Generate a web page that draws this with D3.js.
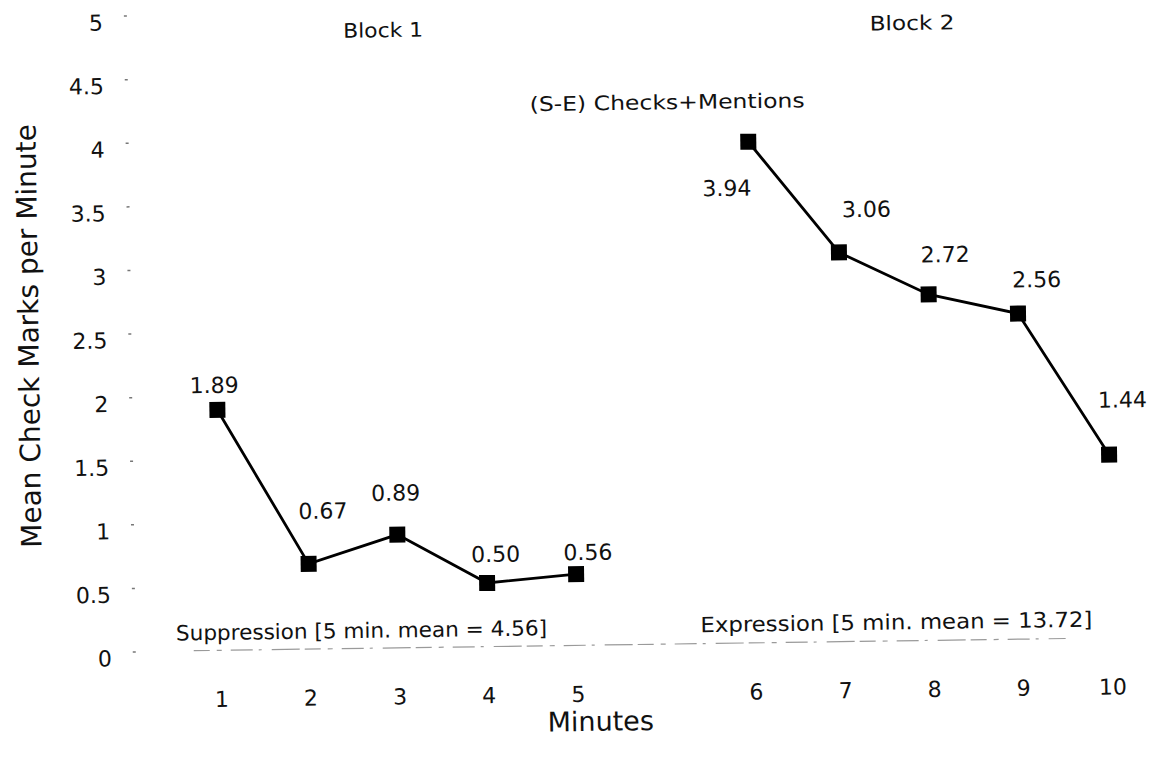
<!DOCTYPE html>
<html>
<head>
<meta charset="utf-8">
<script src="https://cdn.jsdelivr.net/npm/d3@7/dist/d3.min.js"></script>
<style>
  html, body { margin: 0; padding: 0; background: #ffffff; }
  svg { display: block; }
  text { font-family: "DejaVu Sans", "Liberation Sans", Arial, sans-serif; fill: #111; }
</style>
</head>
<body>
<svg id="chart" width="1164" height="757"></svg>
<script>
// ---------- data ----------
const minuteLabels   = ["1", "2", "3", "4", "5", "6", "7", "8", "9", "10"];
const block1Minutes  = ["1", "2", "3", "4", "5"];
const block1Values   = [1.89, 0.67, 0.89, 0.50, 0.56];
const block2Minutes  = ["6", "7", "8", "9", "10"];
const block2Values   = [3.94, 3.06, 2.72, 2.56, 1.44];
const yTickValues    = [0, 0.5, 1, 1.5, 2, 2.5, 3, 3.5, 4, 4.5, 5];
const blockTitles    = ["Block 1", "Block 2"];
const conditionNotes = ["Suppression [5 min. mean = 4.56]", "Expression [5 min. mean = 13.72]"];
const seriesNote     = "(S-E) Checks+Mentions";
const xTitle = "Minutes";
const yTitle = "Mean Check Marks per Minute";

// ---------- layout (styles / offsets only) ----------
const block1LabelOffsets = [[-3, -25], [15, -53], [-1, -42], [9, -29], [12, -22]];
const block2LabelOffsets = [[-22, 46], [28, -43], [17, -40], [19, -34], [14, -55]];

const svg = d3.select("#chart");
// the scanned original is tilted very slightly
const g = svg.append("g").attr("transform", "rotate(-0.8, 600, 380)");

const xDomain = ["1", "2", "3", "4", "5", "gap", "6", "7", "8", "9", "10"];
const x = d3.scalePoint().domain(xDomain).range([217, 1108]);
const y = d3.scaleLinear().domain([0, 5]).range([645, 9]);

// y axis (only tiny tick marks + labels)
const yAxis = d3.axisLeft(y).tickValues(yTickValues).tickSize(3).tickPadding(21)
  .tickFormat(d3.format(""));
const yg = g.append("g").attr("transform", "translate(132,0)").call(yAxis);
yg.select(".domain").remove();
yg.selectAll(".tick line").attr("stroke", "#777").attr("stroke-width", 1.5);
yg.selectAll(".tick text")
  .attr("y", 7)
  .style("font-size", "22px")
  .style("font-family", "'DejaVu Sans', sans-serif")
  .attr("fill", "#111");

// x axis baseline (faint broken line) + labels
const xAxis = d3.axisBottom(x).tickValues(minuteLabels).tickSize(0).tickPadding(41);
const xg = g.append("g").attr("transform", `translate(0,${y(0)})`).call(xAxis);
xg.select(".domain").remove();
xg.selectAll(".tick text")
  .style("font-size", "22px")
  .style("font-family", "'DejaVu Sans', sans-serif")
  .attr("fill", "#111");

g.append("line")
  .attr("x1", 190).attr("x2", 1062)
  .attr("y1", y(0)).attr("y2", y(0))
  .attr("stroke", "#9a9a9a")
  .attr("stroke-width", 1.2)
  .attr("stroke-dasharray", "16 7 5 9 22 6 3 10 28 5");

// series
const line = d3.line().x(d => x(d.m)).y(d => y(d.v));
function drawBlock(mins, vals, offsets) {
  const data = mins.map((m, i) => ({ m, v: vals[i], off: offsets[i] }));
  g.append("path").datum(data)
    .attr("d", line)
    .attr("fill", "none")
    .attr("stroke", "#000")
    .attr("stroke-width", 2.8);
  g.selectAll(null).data(data).enter().append("rect")
    .attr("x", d => x(d.m) - 8)
    .attr("y", d => y(d.v) - 8)
    .attr("width", 16).attr("height", 16)
    .attr("fill", "#000");
  g.selectAll(null).data(data).enter().append("text")
    .attr("x", d => x(d.m) + d.off[0])
    .attr("y", d => y(d.v) + d.off[1])
    .attr("dy", "0.36em")
    .attr("text-anchor", "middle")
    .style("font-size", "22px")
    .text(d => d3.format(".2f")(d.v));
}
drawBlock(block1Minutes, block1Values, block1LabelOffsets);
drawBlock(block2Minutes, block2Values, block2LabelOffsets);

// annotations
const blockPos = [[388, 27, 80], [917, 27, 85]];
blockTitles.forEach((t, i) => {
  g.append("text")
    .attr("x", blockPos[i][0]).attr("y", blockPos[i][1])
    .attr("dy", "0.36em").attr("text-anchor", "middle")
    .attr("textLength", blockPos[i][2]).attr("lengthAdjust", "spacingAndGlyphs")
    .style("font-size", "20px")
    .text(t);
});

g.append("text")
  .attr("x", 671).attr("y", 103)
  .attr("dy", "0.36em").attr("text-anchor", "middle")
  .attr("textLength", 275).attr("lengthAdjust", "spacingAndGlyphs")
  .style("font-size", "20px")
  .text(seriesNote);

const notePos = [[358, 627, 371], [893, 626, 392]];
conditionNotes.forEach((t, i) => {
  g.append("text")
    .attr("x", notePos[i][0]).attr("y", notePos[i][1])
    .attr("dy", "0.36em").attr("text-anchor", "middle")
    .attr("textLength", notePos[i][2]).attr("lengthAdjust", "spacingAndGlyphs")
    .style("font-size", "21px")
    .text(t);
});

// axis titles
g.append("text")
  .attr("x", 596).attr("y", 721)
  .attr("dy", "0.36em").attr("text-anchor", "middle")
  .style("font-size", "27px")
  .text(xTitle);

g.append("text")
  .attr("transform", "translate(29,328) rotate(-90)")
  .attr("dy", "0.36em").attr("text-anchor", "middle")
  .style("font-size", "28px")
  .text(yTitle);
</script>
</body>
</html>
